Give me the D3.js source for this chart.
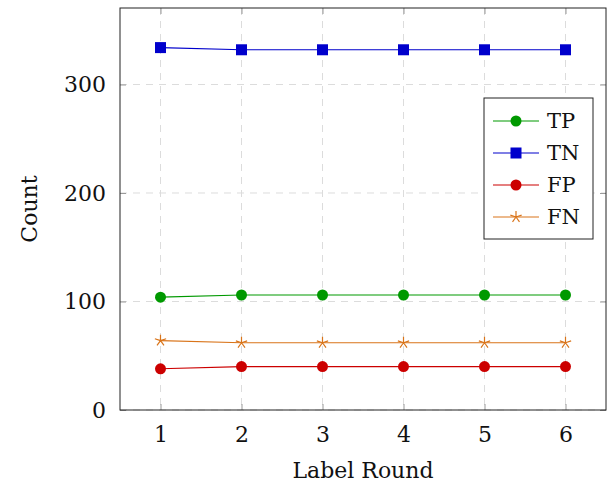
<!DOCTYPE html>
<html>
<head>
<meta charset="utf-8">
<script src="https://cdn.jsdelivr.net/npm/d3@7"></script>
<style>
  body { margin: 0; background: #fff; }
  text { font-family: "DejaVu Serif", "Liberation Serif", serif; }
</style>
</head>
<body>
<div id="chart"></div>
<script>
// data
const rounds = [1, 2, 3, 4, 5, 6]
const tp = [104, 106, 106, 106, 106, 106]
const tn = [334, 332, 332, 332, 332, 332]
const fp = [38, 40, 40, 40, 40, 40]
const fn = [64, 62, 62, 62, 62, 62]
const yTicks = [0, 100, 200, 300]

const series = [
    {name: "TP", values: tp, color: "#009900", marker: "circle"},
    {name: "TN", values: tn, color: "#0000cc", marker: "square"},
    {name: "FP", values: fp, color: "#cc0000", marker: "circle"},
    {name: "FN", values: fn, color: "#d9741a", marker: "star"}
]

let svgWidth = 611
let svgHeight = 486
let margins = {top: 8, bottom: 76, left: 120, right: 5}
let w = svgWidth - margins.left - margins.right
let h = svgHeight - margins.top - margins.bottom

let x = d3.scaleLinear().domain([0.5, 6.5]).range([0, w])
let y = d3.scaleLinear().domain([0, 370.5]).range([h, 0])

let svg = d3.select('#chart')
    .append("svg")
        .attr("width", svgWidth)
        .attr("height", svgHeight)
    .append("g")
        .attr("transform", `translate(${margins.left},${margins.top})`)

//GRID
svg.append('g').selectAll('line').data(rounds).join('line')
    .attr('x1', d => x(d)).attr('x2', d => x(d))
    .attr('y1', 0).attr('y2', h)
    .attr('stroke', '#dcdcdc').attr('stroke-dasharray', '7,6')
svg.append('g').selectAll('line').data(yTicks).join('line')
    .attr('x1', 0).attr('x2', w)
    .attr('y1', d => y(d)).attr('y2', d => y(d))
    .attr('stroke', '#dcdcdc').attr('stroke-dasharray', '7,6')

//X-AXIS
let xAxis = svg.append('g')
    .attr('transform', `translate(0, ${h})`)
    .call(d3.axisBottom(x).tickValues(rounds).tickFormat(d3.format('d')).tickSizeInner(-6).tickSizeOuter(0).tickPadding(16))
xAxis.select('.domain').remove()
xAxis.selectAll('line').attr('stroke', '#999')
xAxis.selectAll('text').attr('font-size', 22).attr('fill', '#111')
    .style('font-family', '"DejaVu Serif", serif')

// top ticks
svg.append('g').call(d3.axisTop(x).tickValues(rounds).tickSizeInner(-6).tickSizeOuter(0).tickFormat(''))
    .call(g => g.select('.domain').remove())
    .selectAll('line').attr('stroke', '#999')

//Y-AXIS
let yAxis = svg.append('g')
    .call(d3.axisLeft(y).tickValues(yTicks).tickSizeInner(-6).tickSizeOuter(0).tickPadding(14))
yAxis.select('.domain').remove()
yAxis.selectAll('line').attr('stroke', '#999')
yAxis.selectAll('text').attr('font-size', 22).attr('fill', '#111')
    .style('font-family', '"DejaVu Serif", serif')

svg.append('g').attr('transform', `translate(${w},0)`)
    .call(d3.axisRight(y).tickValues(yTicks).tickSizeInner(-6).tickSizeOuter(0).tickFormat(''))
    .call(g => g.select('.domain').remove())
    .selectAll('line').attr('stroke', '#999')

// frame
svg.append('rect')
    .attr('width', w).attr('height', h)
    .attr('fill', 'none').attr('stroke', '#222').attr('stroke-width', 1)

// axis titles
svg.append('text')
    .attr('x', w / 2).attr('y', h + 68)
    .attr('text-anchor', 'middle').attr('font-size', 22).attr('fill', '#111')
    .text('Label Round')
svg.append('text')
    .attr('transform', `translate(${-83},${h / 2}) rotate(-90)`)
    .attr('text-anchor', 'middle').attr('font-size', 22).attr('fill', '#111')
    .text('Count')

// five armed star like pgfplots "star"
let starType = {
    draw: function(context, size) {
        let r = Math.sqrt(size) / 1.6
        for (let k = 0; k < 5; k++) {
            let a = -Math.PI / 2 + k * 2 * Math.PI / 5
            context.moveTo(0, 0)
            context.lineTo(r * Math.cos(a), r * Math.sin(a))
        }
    }
}
let star = d3.symbol().type(starType).size(90)

function drawMarker(g, type, color) {
    if (type == 'circle') {
        g.append('circle').attr('r', 5.5).attr('fill', color)
    } else if (type == 'square') {
        g.append('rect').attr('x', -5.5).attr('y', -5.5).attr('width', 11).attr('height', 11).attr('fill', color)
    } else {
        g.append('path').attr('d', star()).attr('fill', 'none').attr('stroke', color).attr('stroke-width', 1.2)
    }
}

let line = d3.line().x((d, i) => x(rounds[i])).y(d => y(d))

series.forEach(function(s) {
    svg.append('path')
        .attr('d', line(s.values))
        .attr('fill', 'none').attr('stroke', s.color).attr('stroke-width', 1.2)
    s.values.forEach(function(v, i) {
        let g = svg.append('g').attr('transform', `translate(${x(rounds[i])},${y(v)})`)
        drawMarker(g, s.marker, s.color)
    })
})

//LEGEND
let legend = svg.append('g').attr('transform', `translate(${484 - margins.left},${98 - margins.top})`)
legend.append('rect')
    .attr('width', 109).attr('height', 141)
    .attr('fill', '#fff').attr('stroke', '#222')
series.forEach(function(s, i) {
    let yy = 23 + i * 32
    legend.append('line')
        .attr('x1', 9).attr('x2', 55).attr('y1', yy).attr('y2', yy)
        .attr('stroke', s.color).attr('stroke-width', 1.2)
    let g = legend.append('g').attr('transform', `translate(32,${yy})`)
    drawMarker(g, s.marker, s.color)
    legend.append('text')
        .attr('x', 63).attr('y', yy).attr('dy', '0.35em')
        .attr('font-size', 21).attr('fill', '#111')
        .text(s.name)
})
</script>
</body>
</html>
